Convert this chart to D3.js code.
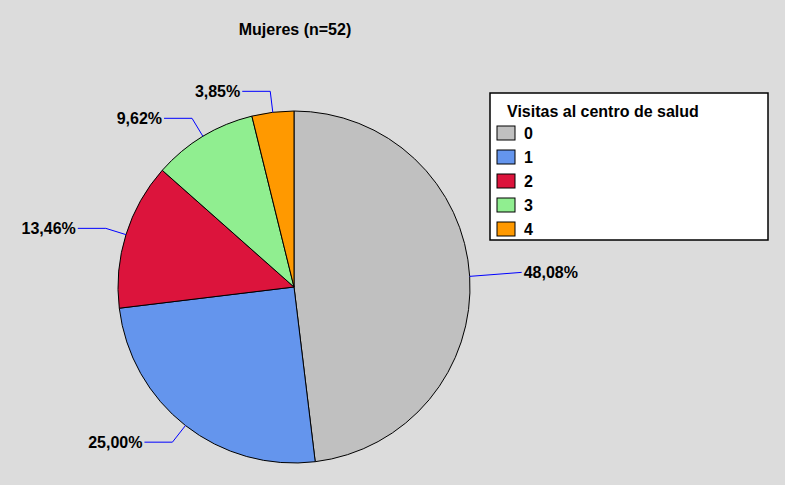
<!DOCTYPE html>
<html><head><meta charset="utf-8">
<script src="https://cdn.jsdelivr.net/npm/d3@7"></script>
<style>body{margin:0;background:#dcdcdc;}svg{display:block;font-family:"Liberation Sans",Arial,sans-serif;font-weight:bold;}</style>
</head><body>
<script>
const categories = ["0","1","2","3","4"];
const counts = [25,13,7,5,2];
const labels = ["48,08%","25,00%","13,46%","9,62%","3,85%"];
const colors = ["#c0c0c0","#6495ed","#dc143c","#90ee90","#ff9900"];
const title = "Mujeres (n=52)";
const legendTitle = "Visitas al centro de salud";

const W=785,H=485,cx=294,cy=287,r=176;
const svg=d3.select("body").append("svg").attr("width",W).attr("height",H);
svg.append("rect").attr("width",W).attr("height",H).attr("fill","#dcdcdc");
svg.append("text").attr("x",295).attr("y",35).attr("text-anchor","middle").attr("font-size",16).text(title);

const pie=d3.pie().sort(null).value(d=>d)(counts);
const arc=d3.arc().innerRadius(0).outerRadius(r);
const g=svg.append("g").attr("transform",`translate(${cx},${cy})`);
g.selectAll("path").data(pie).join("path").attr("d",arc)
 .attr("fill",(d,i)=>colors[i]).attr("stroke","#000").attr("stroke-width",1);

pie.forEach((d,i)=>{
  const a=(d.startAngle+d.endAngle)/2;
  const p0=[r*Math.sin(a),-r*Math.cos(a)];
  const right=Math.sin(a)>0.9;
  const k=right?1.0:1.12;
  const p1=[r*k*Math.sin(a)+(right?52:0),-r*k*Math.cos(a)-(right?4:0)];
  const p2=right?p1:[p1[0]-28,p1[1]];
  g.append("polyline").attr("points",[p0,p1,p2].map(p=>p.join(",")).join(" "))
   .attr("fill","none").attr("stroke","#0000ff").attr("stroke-width",1);
  g.append("text").attr("x",p2[0]+(right?2:-2)).attr("y",p2[1]+6)
   .attr("text-anchor",right?"start":"end").attr("font-size",16).text(labels[i]);
});

const lg=svg.append("g");
lg.append("rect").attr("x",490).attr("y",93).attr("width",278).attr("height",147)
  .attr("fill","#fff").attr("stroke","#000").attr("stroke-width",1.5);
lg.append("text").attr("x",507).attr("y",117).attr("font-size",16).text(legendTitle);
categories.forEach((c,i)=>{
  const y=126+i*24;
  lg.append("rect").attr("x",497).attr("y",y).attr("width",18).attr("height",14)
    .attr("fill",colors[i]).attr("stroke","#000");
  lg.append("text").attr("x",524).attr("y",y+13).attr("font-size",16).text(c);
});
</script>
</body></html>
